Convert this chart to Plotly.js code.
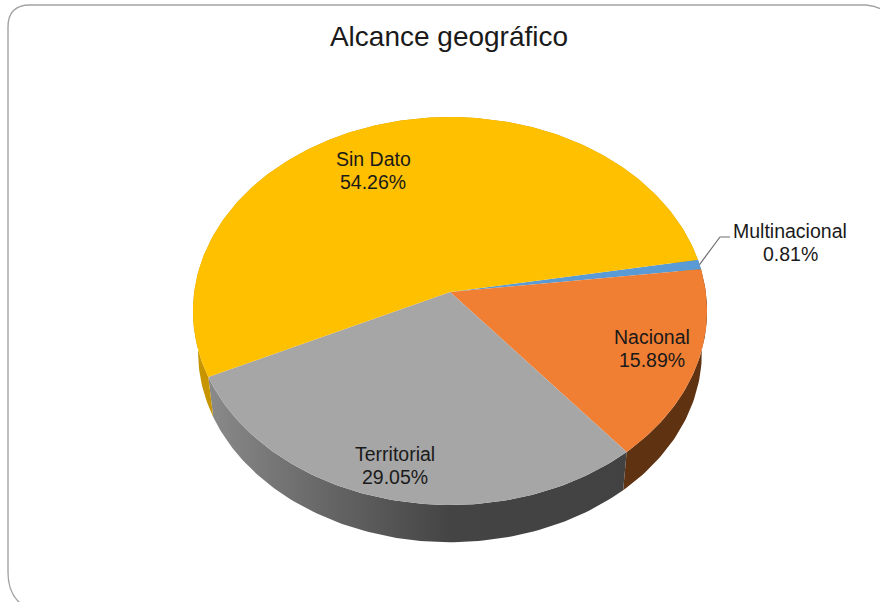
<!DOCTYPE html>
<html><head><meta charset="utf-8">
<script src="https://cdn.plot.ly/plotly-3.0.1.min.js"></script>
<style>html,body{margin:0;padding:0;background:#fff}#c{width:880px;height:602px}</style>
</head><body><div id="c"></div>
<script>
var chartTitle = "Alcance geográfico";
var categories = ["Multinacional", "Nacional", "Territorial", "Sin Dato"];
var shares = [0.81, 15.89, 29.05, 54.26];
var topColors = ["#5B9BD5", "#F07E33", "#A6A6A6", "#FFC000"];
var firstAngle = 80.2;

// Perspective projection of the disc onto the page (pixel-scaled axes)
var apexX = 450, apexY = 292, radX = 255.8, radY = 192.1, persp = 0.098;
var depthY = 333.5, depthScale = 0.98;
function project(deg, cy, s) {
  var r = deg * Math.PI / 180, u = Math.sin(r), v = -Math.cos(r), w = 1 - persp * v;
  return [apexX + s * radX * u / w, cy + s * radY * v / w];
}
function arc(a0, a1, cy, s) {
  var pts = [], n = Math.max(2, Math.ceil(Math.abs(a1 - a0)));
  for (var i = 0; i <= n; i++) pts.push(project(a0 + (a1 - a0) * i / n, cy, s));
  return pts;
}

var total = shares.reduce(function (a, b) { return a + b; }, 0);
var starts = [], ang = firstAngle;
shares.forEach(function (p) { starts.push(ang); ang += p / total * 360; });
function endOf(i) { return starts[i] + shares[i] / total * 360; }

var wallFill = [
  {fillcolor: "#3f6f9c"},
  {fillcolor: "#5f3212"},
  {fillgradient: {type: "horizontal", colorscale: [[0, "#8a8a8a"], [0.3, "#646464"], [0.58, "#444444"], [1, "#424242"]]}},
  {fillcolor: "#c79500"}
];
var traces = [];
categories.forEach(function (c, i) {
  var a = arc(starts[i], endOf(i), apexY, 1), b = arc(endOf(i), starts[i], depthY, depthScale);
  var poly = a.concat(b); poly.push(a[0]);
  traces.push(Object.assign({
    type: "scatter", mode: "lines", fill: "toself", line: {width: 0}, hoverinfo: "skip", showlegend: false, name: c + " lateral",
    x: poly.map(function (p) { return p[0]; }), y: poly.map(function (p) { return p[1]; })
  }, wallFill[i]));
});
categories.forEach(function (c, i) {
  var poly = [[apexX, apexY]].concat(arc(starts[i], endOf(i), apexY, 1)); poly.push([apexX, apexY]);
  traces.push({
    type: "scatter", mode: "lines", fill: "toself", fillcolor: topColors[i], line: {width: 0}, showlegend: false, name: c,
    x: poly.map(function (p) { return p[0]; }), y: poly.map(function (p) { return p[1]; })
  });
});
// Leader line for the thin slice
var lead = project((starts[0] + endOf(0)) / 2, apexY, 1);
traces.push({type: "scatter", mode: "lines", hoverinfo: "skip", showlegend: false,
  x: [lead[0], 720, 730], y: [lead[1], 237, 237], line: {color: "#6f6f6f", width: 1.2}});

var labelPos = [[790, 231], [652, 337], [395, 454], [373, 159]];
var lineGap = 23;
var annotations = [];
categories.forEach(function (c, i) {
  [c, shares[i].toFixed(2) + "%"].forEach(function (t, k) {
    annotations.push({x: labelPos[i][0], y: labelPos[i][1] + k * lineGap, xref: "x", yref: "y", showarrow: false,
      xanchor: "center", yanchor: "middle", align: "center", text: t,
      font: {family: "Liberation Sans, Arial, sans-serif", size: 19.5, color: "#1a1a1a"}});
  });
});

var layout = {
  width: 880, height: 602, margin: {l: 0, r: 0, t: 0, b: 0},
  paper_bgcolor: "#fff", plot_bgcolor: "#fff",
  title: {text: chartTitle, x: 449 / 880, xanchor: "center", y: 1 - 36 / 602, yanchor: "middle",
    font: {family: "Liberation Sans, Arial, sans-serif", size: 28, color: "#1a1a1a"}},
  xaxis: {range: [0, 880], visible: false, fixedrange: true},
  yaxis: {range: [602, 0], visible: false, fixedrange: true},
  annotations: annotations,
  shapes: [{type: "path", xref: "x", yref: "y", layer: "below",
    path: "M 24,606 Q 8,596 8,572 L 8,27 Q 8,5 30,5 L 866,5 Q 878,6 886,12",
    line: {color: "#a3a3a3", width: 1.4}}]
};
Plotly.newPlot("c", traces, layout, {displayModeBar: false, staticPlot: true});
</script></body></html>
